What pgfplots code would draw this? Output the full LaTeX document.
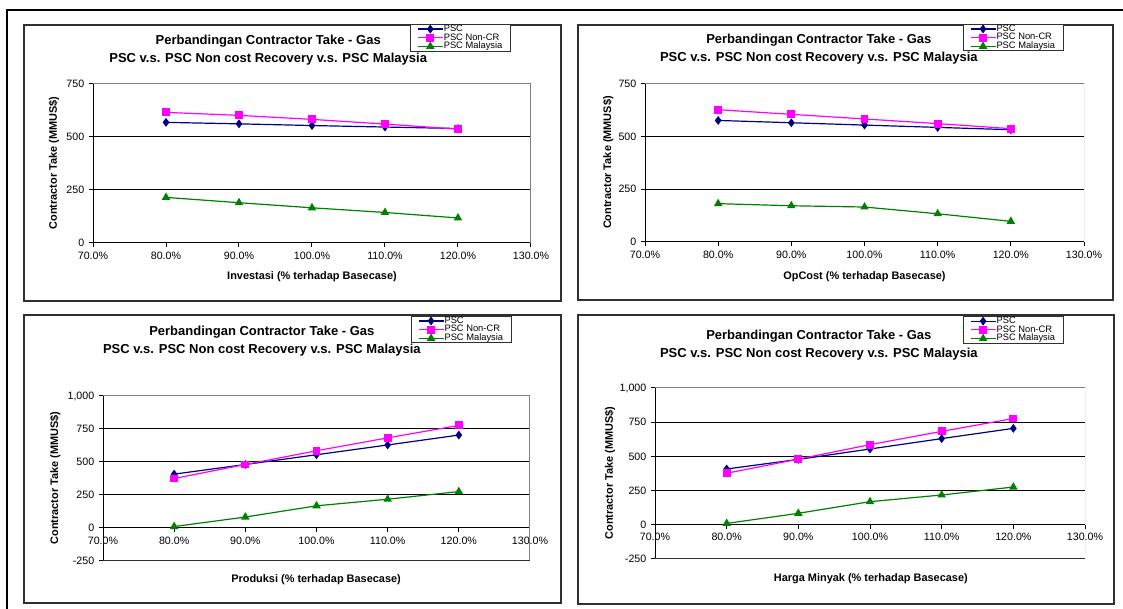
\documentclass[border=0pt]{standalone}
\usepackage{fontspec}
\setmainfont{Liberation Sans}
\usepackage{pgfplots}
\pgfplotsset{compat=1.18}

\definecolor{pscblue}{HTML}{000080}
\definecolor{pscmag}{HTML}{FF00FF}
\definecolor{pscgreen}{HTML}{008000}
\definecolor{framegray}{HTML}{808080}
\definecolor{boxdark}{HTML}{303030}

\pgfplotsset{
  every axis title shift=0pt,
  panel/.style={
    scale only axis,
    xmin=0.7, xmax=1.3,
    xtick={0.7,0.8,0.9,1.0,1.1,1.2,1.3},
    xticklabels={70.0\%,80.0\%,90.0\%,100.0\%,110.0\%,120.0\%,130.0\%},
    axis x line=middle, axis y line=left,
    axis line style={-,black,line width=0.75pt},
    hide obscured x ticks=false, hide obscured y ticks=false,
    tick align=outside, major tick length=3pt,
    tick style={black,line width=0.75pt},
    ymajorgrids, grid style={black,line width=0.75pt},
    tick label style={font=\fontsize{8}{9.6}\selectfont},
    title={Perbandingan Contractor Take - Gas\\PSC v.s. PSC Non cost Recovery v.s. PSC Malaysia},
    title style={anchor=center, align=center,
      font=\bfseries\fontsize{9.75}{13.5}\selectfont},
    xlabel style={anchor=center, font=\bfseries\fontsize{8.2}{9}\selectfont},
    ylabel={Contractor Take (MMUS\$)},
    ylabel style={anchor=center, font=\bfseries\fontsize{8.2}{9}\selectfont},
    legend cell align=left,
    legend style={anchor=north west, draw=boxdark, line width=0.6pt, fill=white,
      inner xsep=5pt, inner ysep=0.2pt, row sep=0pt,
      font=\fontsize{7}{7}\selectfont,
      nodes={inner sep=0.3pt, text height=4.7pt, text depth=1.2pt}},
    legend image code/.code={\draw[mark repeat=2,mark phase=2]
      plot coordinates {(0pt,0pt) (9.4pt,0pt) (18.75pt,0pt)};},
  },
  psc/.style={color=pscblue, line width=0.9pt, mark=diamond*, mark size=2.6pt,
    mark options={solid, fill=pscblue}},
  noncr/.style={color=pscmag, line width=0.9pt, mark=square*, mark size=2.5pt,
    mark options={solid, fill=pscmag}},
  malay/.style={color=pscgreen, line width=0.9pt, mark=triangle*, mark size=2.8pt,
    mark options={solid, fill=pscgreen}},
}

\begin{document}
\begin{tikzpicture}
\useasboundingbox (0,0) rectangle (842.25pt,456.75pt);

% outer page frame
\draw[black, line width=1.5pt] (5.25pt,0pt) -- (5.25pt,449.25pt) -- (842.25pt,449.25pt);

% panel frames
\draw[boxdark, line width=1.5pt] (18pt,231pt) rectangle (420.75pt,438pt);
\draw[boxdark, line width=1.5pt] (433.5pt,231.75pt) rectangle (834.75pt,438pt);
\draw[boxdark, line width=1.5pt] (18pt,4.5pt) rectangle (420.75pt,220.5pt);
\draw[boxdark, line width=1.5pt] (433.5pt,3.75pt) rectangle (835.5pt,220.5pt);

% ---- Investasi ----
\begin{axis}[panel,
  at={(69.75pt,274.5pt)}, anchor=south west,
  width=328.5pt, height=119.25pt,
  ymin=0, ymax=750, ytick={0,250,500,750}, yticklabels={0,250,500,750},
  title style={at={(axis description cs:0.40,1.214)}},
  xlabel={Investasi (\% terhadap Basecase)},
  xlabel style={at={(axis description cs:0.5,-0.214)}},
  ylabel style={at={(axis description cs:-0.089,0.503)}},
  legend style={at={(axis description cs:0.724,1.377)}},
]
\draw[framegray, line width=0.75pt] (rel axis cs:0,1) -- (rel axis cs:1,1) -- (rel axis cs:1,0);
\addplot[psc] coordinates {(0.8,569) (0.9,562) (1.0,554) (1.1,547) (1.2,540)};
\addlegendentry{\makebox[45pt][l]{PSC}}
\addplot[noncr] coordinates {(0.8,616) (0.9,602) (1.0,583) (1.1,561) (1.2,537)};
\addlegendentry{\makebox[45pt][l]{PSC Non-CR}}
\addplot[malay] coordinates {(0.8,215) (0.9,190) (1.0,166) (1.1,144) (1.2,118)};
\addlegendentry{\makebox[45pt][l]{PSC Malaysia}}
\end{axis}

% ---- OpCost ----
\begin{axis}[panel,
  at={(483.75pt,275.25pt)}, anchor=south west,
  width=329.25pt, height=118.5pt,
  ymin=0, ymax=750, ytick={0,250,500,750}, yticklabels={0,250,500,750},
  title style={at={(axis description cs:0.396,1.221)}},
  xlabel={OpCost (\% terhadap Basecase)},
  xlabel style={at={(axis description cs:0.5,-0.222)}},
  ylabel style={at={(axis description cs:-0.084,0.503)}},
  legend style={at={(axis description cs:0.724,1.38)}},
]
\draw[framegray, line width=0.75pt] (rel axis cs:0,1) -- (rel axis cs:1,1) -- (rel axis cs:1,0);
\addplot[psc] coordinates {(0.8,577) (0.9,566) (1.0,555) (1.1,544) (1.2,533)};
\addlegendentry{\makebox[45pt][l]{PSC}}
\addplot[noncr] coordinates {(0.8,628) (0.9,606) (1.0,584) (1.1,562) (1.2,538)};
\addlegendentry{\makebox[45pt][l]{PSC Non-CR}}
\addplot[malay] coordinates {(0.8,182) (0.9,172) (1.0,166) (1.1,134) (1.2,98)};
\addlegendentry{\makebox[45pt][l]{PSC Malaysia}}
\end{axis}

% ---- Produksi ----
\begin{axis}[panel,
  at={(77.25pt,36pt)}, anchor=south west,
  width=320.25pt, height=123.75pt,
  ymin=-250, ymax=1000, ytick={-250,0,250,500,750,1000},
  yticklabels={-250,0,250,500,750,{1,000}},
  title style={at={(axis description cs:0.372,1.33)}},
  xlabel={Produksi (\% terhadap Basecase)},
  xlabel style={at={(axis description cs:0.499,-0.115)}},
  ylabel style={at={(axis description cs:-0.112,0.503)}},
  legend style={at={(axis description cs:0.721,1.485)}},
]
\draw[framegray, line width=0.75pt] (rel axis cs:0,1) -- (rel axis cs:1,1) -- (rel axis cs:1,0);
\draw[boxdark, line width=0.75pt] (rel axis cs:1,0) -- (rel axis cs:0,0);
\addplot[psc] coordinates {(0.8,408) (0.9,481) (1.0,555) (1.1,629) (1.2,704)};
\addlegendentry{\makebox[45pt][l]{PSC}}
\addplot[noncr] coordinates {(0.8,375) (0.9,481) (1.0,585) (1.1,683) (1.2,777)};
\addlegendentry{\makebox[45pt][l]{PSC Non-CR}}
\addplot[malay] coordinates {(0.8,11) (0.9,83) (1.0,168) (1.1,218) (1.2,276)};
\addlegendentry{\makebox[45pt][l]{PSC Malaysia}}
\end{axis}

% ---- Harga Minyak ----
\begin{axis}[panel,
  at={(491.25pt,37.5pt)}, anchor=south west,
  width=322.5pt, height=128.25pt,
  ymin=-250, ymax=1000, ytick={-250,0,250,500,750,1000},
  yticklabels={-250,0,250,500,750,{1,000}},
  title style={at={(axis description cs:0.381,1.248)}},
  xlabel={Harga Minyak (\% terhadap Basecase)},
  xlabel style={at={(axis description cs:0.502,-0.117)}},
  ylabel style={at={(axis description cs:-0.105,0.503)}},
  legend style={at={(axis description cs:0.716,1.42)}},
]
\draw[framegray, line width=0.75pt] (rel axis cs:0,1) -- (rel axis cs:1,1) -- (rel axis cs:1,0);
\draw[boxdark, line width=0.75pt] (rel axis cs:1,0) -- (rel axis cs:0,0);
\addplot[psc] coordinates {(0.8,408) (0.9,478) (1.0,554) (1.1,630) (1.2,705)};
\addlegendentry{\makebox[45pt][l]{PSC}}
\addplot[noncr] coordinates {(0.8,377) (0.9,480) (1.0,586) (1.1,683) (1.2,777)};
\addlegendentry{\makebox[45pt][l]{PSC Non-CR}}
\addplot[malay] coordinates {(0.8,10) (0.9,84) (1.0,169) (1.1,218) (1.2,276)};
\addlegendentry{\makebox[45pt][l]{PSC Malaysia}}
\end{axis}
\end{tikzpicture}
\end{document}
